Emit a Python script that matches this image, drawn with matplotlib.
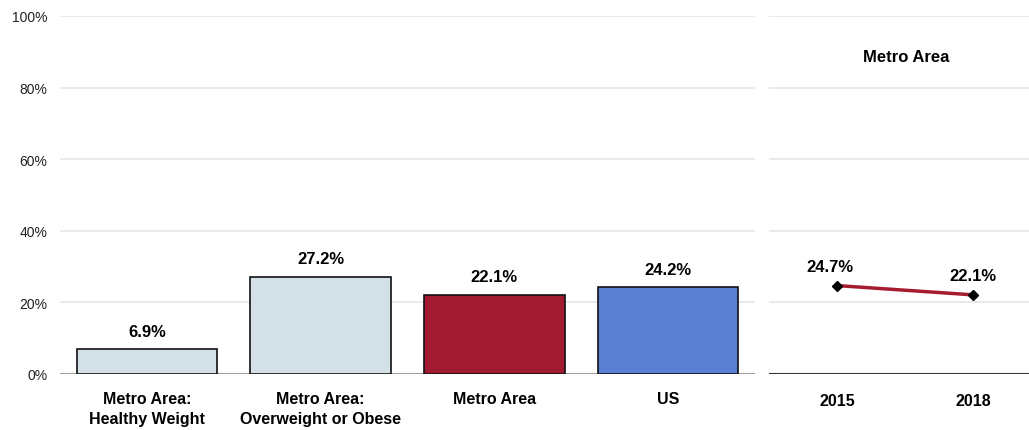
import matplotlib
matplotlib.use("Agg")
import matplotlib.pyplot as plt
from matplotlib import font_manager

names = {f.name for f in font_manager.fontManager.ttflist}
narrow = "Liberation Sans Narrow" if "Liberation Sans Narrow" in names else "Liberation Sans"
fs = 12.5 if narrow == "Liberation Sans Narrow" else 11.5

# data
categories = ["Metro Area:\nHealthy Weight", "Metro Area:\nOverweight or Obese", "Metro Area", "US"]
values = [6.9, 27.2, 22.1, 24.2]
bar_colors = ["#d3e0e5", "#d3e0e5", "#a21a2f", "#5a80d3"]

years = ["2015", "2018"]
trend = [24.7, 22.1]

yticks = [0, 20, 40, 60, 80, 100]

fig = plt.figure(figsize=(10.29, 4.31), dpi=100)
W, H = 1029, 431
y0, y1 = 375, 17
ax = fig.add_axes([60 / W, 1 - y0 / H, (755 - 60) / W, (y0 - y1) / H])
ax2 = fig.add_axes([769 / W, 1 - y0 / H, (1029 - 769) / W, (y0 - y1) / H])

x = range(len(categories))
ax.bar(x, values, width=0.81, color=bar_colors, edgecolor="#111111", linewidth=1.2, zorder=3)
for i, v in enumerate(values):
    ax.text(i, v + 3.0, f"{v:.1f}%", ha="center", va="bottom", fontsize=fs + 0.5,
            fontweight="bold", family=narrow)
ax.set_xlim(-0.5, len(categories) - 0.5)
ax.set_ylim(0, 100)
ax.set_yticks(yticks)
ax.set_yticklabels([f"{t}%" for t in yticks], fontsize=10, family="Liberation Sans", color="#222222")
ax.set_xticks(list(x))
ax.set_xticklabels(categories, fontsize=fs, fontweight="bold", family=narrow, linespacing=1.45)
ax.tick_params(axis="both", length=0)
ax.tick_params(axis="x", pad=12)
ax.tick_params(axis="y", pad=9)
ax.grid(axis="y", color="#e6e6e6", linewidth=1.2, zorder=0)
ax.axhline(0, color="#a0a0a0", linewidth=1.5, zorder=2)
for s in ax.spines.values():
    s.set_visible(False)

xp = range(len(years))
ax2.plot(xp, trend, color="#a51c30", linewidth=2.5, marker="D", markersize=5,
         markerfacecolor="black", markeredgecolor="black", zorder=3)
offs = [3.3, 3.3]
for i, v in enumerate(trend):
    ax2.text(i - 0.05 if i == 0 else i, v + offs[i], f"{v:.1f}%", ha="center", va="bottom",
             fontsize=fs + 0.5, fontweight="bold", family=narrow)
ax2.text(0.51, 88.8, "Metro Area", ha="center", va="center", fontsize=fs + 0.5,
         fontweight="bold", family=narrow)
ax2.set_xlim(-0.5, 1.41)
ax2.set_ylim(0, 100)
ax2.set_yticks(yticks)
ax2.set_yticklabels([])
ax2.set_xticks(list(xp))
ax2.set_xticklabels(years, fontsize=fs, fontweight="bold", family=narrow)
ax2.tick_params(axis="both", length=0)
ax2.tick_params(axis="x", pad=14)
ax2.grid(axis="y", color="#e6e6e6", linewidth=1.2, zorder=0)
ax2.axhline(0, color="#333333", linewidth=1.5, zorder=2)
for s in ax2.spines.values():
    s.set_visible(False)

fig.savefig("out.png", dpi=100, facecolor="white")
